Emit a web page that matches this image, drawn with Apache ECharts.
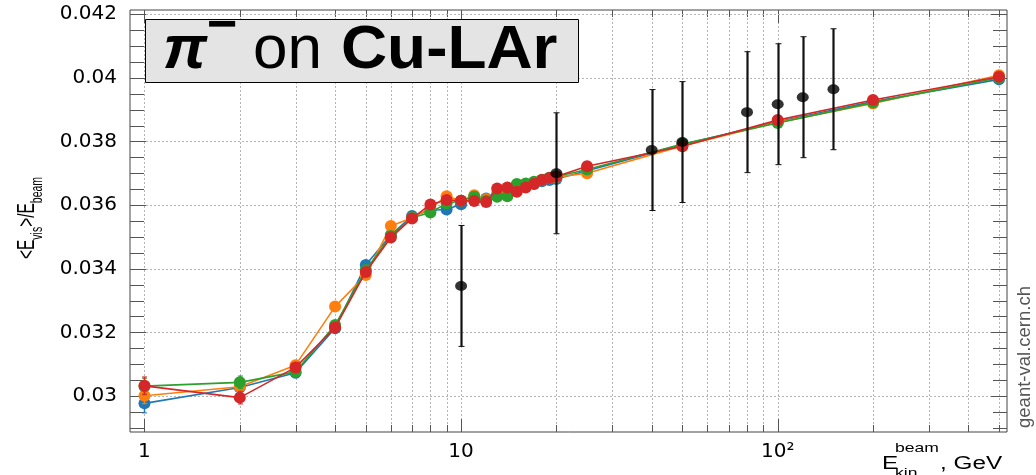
<!DOCTYPE html>
<html><head><meta charset="utf-8">
<script src="https://cdn.jsdelivr.net/npm/echarts@6/dist/echarts.min.js"></script>
<style>html,body{margin:0;padding:0;background:#fff}#c{width:1036px;height:475px}</style>
</head><body><div id="c"></div>
<script>
// ---- data ----
const mcEnergies = [1,2,3,4,5,6,7,8,9,10,11,12,13,14,15,16,17,18,19,20,25,50,100,200,500];
const blueVals   = [0.02977,0.03027,0.03073,0.03213,0.03412,0.03506,0.03566,0.03584,0.03586,0.03603,0.03625,0.03621,0.03635,0.03642,0.03657,0.03660,0.03668,0.03675,0.03679,0.03682,0.03708,0.03790,0.03862,0.03925,0.03995];
const orangeVals = [0.03001,0.03029,0.03097,0.03281,0.03380,0.03534,0.03560,0.03590,0.03628,0.03614,0.03631,0.03618,0.03630,0.03640,0.03655,0.03660,0.03668,0.03678,0.03684,0.03688,0.03700,0.03786,0.03860,0.03919,0.04008];
const greenVals  = [0.03031,0.03043,0.03076,0.03223,0.03396,0.03503,0.03560,0.03577,0.03605,0.03614,0.03626,0.03614,0.03626,0.03628,0.03666,0.03668,0.03673,0.03680,0.03686,0.03690,0.03712,0.03792,0.03858,0.03922,0.04000];
const redVals    = [0.03032,0.02995,0.03090,0.03215,0.03390,0.03498,0.03558,0.03602,0.03616,0.03614,0.03613,0.03610,0.03652,0.03655,0.03642,0.03655,0.03666,0.03679,0.03685,0.03690,0.03722,0.03785,0.03867,0.03930,0.04003];
const blueErr    = [0.00030,0.00020,0.00015,0.00012,0.00010,0.00008,0.00007,0.00006,0.00006,0.00005,0.00005,0.00005,0.00005,0.00005,0.00005,0.00005,0.00005,0.00005,0.00005,0.00005,0.00005,0.00005,0.00005,0.00005,0.00005];
const orangeErr  = [0.00025,0.00020,0.00015,0.00012,0.00010,0.00008,0.00007,0.00006,0.00006,0.00005,0.00005,0.00005,0.00005,0.00005,0.00005,0.00005,0.00005,0.00005,0.00005,0.00005,0.00005,0.00005,0.00005,0.00005,0.00005];
const greenErr   = [0.00025,0.00020,0.00015,0.00012,0.00010,0.00008,0.00007,0.00006,0.00006,0.00005,0.00005,0.00005,0.00005,0.00005,0.00005,0.00005,0.00005,0.00005,0.00005,0.00005,0.00005,0.00005,0.00005,0.00005,0.00005];
const redErr     = [0.00028,0.00020,0.00015,0.00012,0.00010,0.00008,0.00007,0.00006,0.00006,0.00005,0.00005,0.00005,0.00005,0.00005,0.00005,0.00005,0.00005,0.00005,0.00005,0.00005,0.00005,0.00005,0.00005,0.00005,0.00005];
const dataEnergies = [10,20,40,50,80,100,120,150];
const dataVals     = [0.03346,0.03700,0.03773,0.03798,0.03892,0.03917,0.03939,0.03964];
const dataErr      = [0.0019,0.0019,0.0019,0.0019,0.0019,0.0019,0.0019,0.0019];
const xMajorTicks = [1,10,100];
const xTickLabels = ['1','10','10²'];
const xMinorTicks = [2,3,4,5,6,7,8,9,20,30,40,50,60,70,80,90,200,300,400,500];
const yMajorTicks = [0.030,0.032,0.034,0.036,0.038,0.040,0.042];
const yTickLabels = ['0.03','0.032','0.034','0.036','0.038','0.04','0.042'];
const yMinorTicks = [0.029,0.0295,0.0305,0.031,0.0315,0.0325,0.033,0.0335,0.0345,0.035,0.0355,0.0365,0.037,0.0375,0.0385,0.039,0.0395,0.0405,0.041,0.0415];
const seriesColors = ['#1f77b4','#ff7f0e','#2ca02c','#d62728'];

// ---- build ----
const X_MIN = 0.9, X_MAX = 530, Y_MIN = 0.02887, Y_MAX = 0.04213;
const chart = echarts.init(document.getElementById('c'), null, {renderer:'canvas'});
const crisp = v => Math.round(v) + 0.5;

function xGridRender(params, api) {
  const cs = params.coordSys;
  const px = crisp(api.coord([api.value(0), api.value(1)])[0]);
  const major = api.value(2) === 1;
  const tl = major ? 13 : 7;
  const top = cs.y, bot = cs.y + cs.height;
  return {type:'group', children:[
    {type:'line', shape:{x1:px,y1:top,x2:px,y2:bot}, style:{stroke:'#b4b4b4', lineWidth:1, lineDash:[2,2]}},
    {type:'line', shape:{x1:px,y1:bot,x2:px,y2:bot-tl}, style:{stroke:'#555', lineWidth:1}},
    {type:'line', shape:{x1:px,y1:top,x2:px,y2:top+tl}, style:{stroke:'#555', lineWidth:1}}
  ]};
}
function yGridRender(params, api) {
  const cs = params.coordSys;
  const py = crisp(api.coord([api.value(0), api.value(1)])[1]);
  const major = api.value(2) === 1;
  const tl = major ? 16 : 14;
  const l = cs.x, r = cs.x + cs.width;
  const ch = [
    {type:'line', shape:{x1:l,y1:py,x2:l+tl,y2:py}, style:{stroke:'#555', lineWidth:1}},
    {type:'line', shape:{x1:r,y1:py,x2:r-tl,y2:py}, style:{stroke:'#555', lineWidth:1}}
  ];
  if (major) ch.unshift({type:'line', shape:{x1:l,y1:py,x2:r,y2:py}, style:{stroke:'#b4b4b4', lineWidth:1, lineDash:[2,2]}});
  return {type:'group', children:ch};
}
function errRender(color, lw, capHalf) {
  return function(params, api) {
    const x = api.value(0);
    const p1 = api.coord([x, api.value(1)]);
    const p2 = api.coord([x, api.value(2)]);
    const cx = crisp(p1[0]);
    return {type:'group', children:[
      {type:'line', shape:{x1:cx,y1:p1[1],x2:cx,y2:p2[1]}, style:{stroke:color, lineWidth:lw}},
      {type:'line', shape:{x1:cx-capHalf,y1:p1[1],x2:cx+capHalf,y2:p1[1]}, style:{stroke:color, lineWidth:1}},
      {type:'line', shape:{x1:cx-capHalf,y1:p2[1],x2:cx+capHalf,y2:p2[1]}, style:{stroke:color, lineWidth:1}}
    ]};
  };
}

const mcSets = [[blueVals,blueErr],[orangeVals,orangeErr],[greenVals,greenErr],[redVals,redErr]];
const series = [
  {type:'custom', silent:true, z:1, renderItem:xGridRender, clip:false,
   data: xMajorTicks.map(v=>[v,0.035,1]).concat(xMinorTicks.map(v=>[v,0.035,0]))},
  {type:'custom', silent:true, z:1, renderItem:yGridRender, clip:false,
   data: yMajorTicks.map(v=>[1,v,1]).concat(yMinorTicks.map(v=>[1,v,0]))}
];
mcSets.forEach(([vals, errs], i) => {
  series.push({type:'custom', silent:true, z:3+i*2, renderItem:errRender(seriesColors[i], 1.5, 2.5),
    encode:{x:0, y:[1,2]},
    data: mcEnergies.map((e,k)=>[e, vals[k]-errs[k], vals[k]+errs[k]])});
  series.push({type:'line', z:4+i*2, data: mcEnergies.map((e,k)=>[e, vals[k]]),
    symbol:'circle', symbolSize:12, showSymbol:true,
    lineStyle:{color:seriesColors[i], width:1.6}, itemStyle:{color:seriesColors[i]}, animation:false});
});
series.push({type:'custom', silent:true, z:20, renderItem:errRender('#111', 2.2, 3),
  encode:{x:0, y:[1,2]},
  data: dataEnergies.map((e,k)=>[e, dataVals[k]-dataErr[k], dataVals[k]+dataErr[k]])});
series.push({type:'scatter', z:21, data: dataEnergies.map((e,k)=>[e, dataVals[k]]),
  symbol:'circle', symbolSize:[12,10], itemStyle:{color:'#000'}, animation:false});

const FONT = 'DejaVu Sans';
const SX = 1.35;
chart.setOption({
  animation:false,
  backgroundColor:'#fff',
  grid:{left:130, top:10, width:877, height:422, show:true, borderColor:'#444', borderWidth:1, backgroundColor:'transparent'},
  xAxis:{type:'log', logBase:10, min:X_MIN, max:X_MAX,
    axisLine:{show:false}, axisTick:{show:false}, splitLine:{show:false}, minorTick:{show:false},
    axisLabel:{customValues:xMajorTicks, margin:10, color:'#000', fontFamily:FONT, fontSize:20,
      formatter:v=>{const i=xMajorTicks.findIndex(t=>Math.abs(t-v)<1e-6*t); return i>=0?xTickLabels[i]:'';}}},
  yAxis:{type:'value', min:Y_MIN, max:Y_MAX,
    axisLine:{show:false}, axisTick:{show:false}, splitLine:{show:false},
    axisLabel:{customValues:yMajorTicks, margin:13, color:'#000', fontFamily:FONT, fontSize:20,
      formatter:v=>{const i=yMajorTicks.findIndex(t=>Math.abs(t-v)<1e-7); return i>=0?yTickLabels[i]:'';}}},
  series: series,
  graphic:[
    {type:'rect', z:100, shape:{x:145.5,y:19.5,width:433,height:63}, style:{fill:'#e4e4e4', stroke:'#000', lineWidth:1}},
    {type:'text', z:101, x:163, y:51, style:{text:'π', font:'italic bold 62px "Liberation Sans"', fill:'#000', verticalAlign:'middle', align:'left'}},
    {type:'text', z:101, x:207, y:27, style:{text:'−', font:'bold 52px "Liberation Sans"', fill:'#000', verticalAlign:'middle', align:'left'}},
    {type:'text', z:101, x:253, y:51, style:{text:'on', font:'62px "Liberation Sans"', fill:'#000', verticalAlign:'middle', align:'left'}},
    {type:'text', z:101, x:341, y:51, scaleX:1.03, style:{text:'Cu-LAr', font:'bold 62px "Liberation Sans"', fill:'#000', verticalAlign:'middle', align:'left'}},
    {type:'text', z:101, x:31, y:218, rotation:Math.PI/2, scaleY:1.5,
      style:{text:'{m|<E}{s|vis}{m|>/E}{s|beam}', align:'center', verticalAlign:'middle', fill:'#000',
        rich:{m:{fontFamily:'Liberation Sans', fontSize:15.5, verticalAlign:'bottom', padding:[0,0,4,0]},
              s:{fontFamily:'Liberation Sans', fontSize:10.5, verticalAlign:'bottom'}}}},
    {type:'group', z:101, x:882, y:464, scaleX:SX, children:[
      {type:'text', z:101, x:0, y:0, style:{text:'E', font:'18px "Liberation Sans"', fill:'#000', verticalAlign:'middle'}},
      {type:'text', z:101, x:9.6, y:-16, style:{text:'beam', font:'13px "Liberation Sans"', fill:'#000', verticalAlign:'middle'}},
      {type:'text', z:101, x:9.6, y:9, style:{text:'kin', font:'13px "Liberation Sans"', fill:'#000', verticalAlign:'middle'}},
      {type:'text', z:101, x:43, y:0, style:{text:', GeV', font:'18px "Liberation Sans"', fill:'#000', verticalAlign:'middle'}}
    ]},
    {type:'text', z:101, x:1025, y:357, rotation:Math.PI/2, style:{text:'geant-val.cern.ch', font:'18.5px "Liberation Sans"', fill:'#555', align:'center', verticalAlign:'middle'}}
  ]
});
</script></body></html>
